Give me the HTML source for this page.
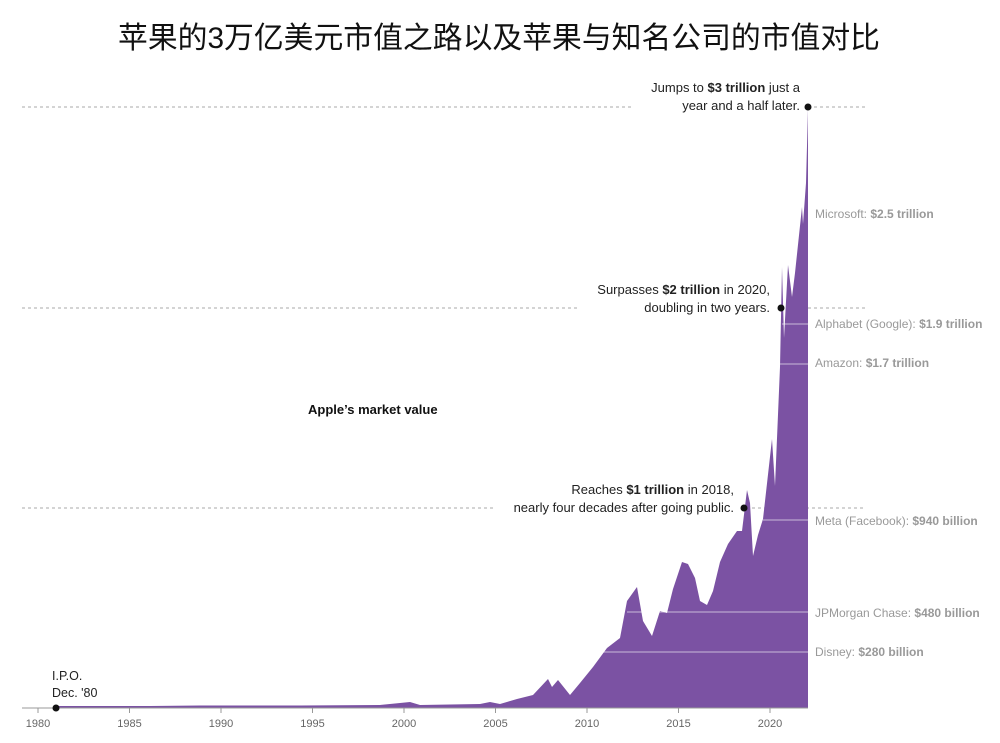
<!DOCTYPE html>
<html><head><meta charset="utf-8"><style>
body{margin:0;background:#fff;}
svg text{font-family:"Liberation Sans","Noto Sans CJK SC",sans-serif;}
</style></head><body>
<svg width="1000" height="738" viewBox="0 0 1000 738" xmlns="http://www.w3.org/2000/svg">
<text x="499" y="48" text-anchor="middle" font-size="30" fill="#111" textLength="762" lengthAdjust="spacingAndGlyphs">苹果的3万亿美元市值之路以及苹果与知名公司的市值对比</text>
<g stroke="#aaa" stroke-dasharray="3,3" stroke-width="1">
<line x1="22" y1="107" x2="632" y2="107"/><line x1="814" y1="107" x2="866" y2="107"/>
<line x1="22" y1="308" x2="578" y2="308"/><line x1="790" y1="308" x2="866" y2="308"/>
<line x1="22" y1="508" x2="493" y2="508"/><line x1="752" y1="508" x2="866" y2="508"/>
</g>
<path fill="#7b52a3" d="M56,708 L56,706 L150,706 L200,705.5 L300,705.5 L380,705 L400,703 L410,702 L420,705 L480,704 L490,702 L500,704 L517,699 L533,695 L548,679 L552,687 L558,680 L570,695 L580,683 L593,667 L607,648 L620,638 L627,601 L637,587 L643,621 L652,636 L660,611 L667,613 L673,589 L682,562 L688,564 L695,578 L700,601 L707,605 L713,591 L720,562 L728,544 L737,531 L742,531 L747,490 L750,503 L753,556 L758,535 L763,519 L772,439 L775,486 L780,367 L782,267 L784,338 L788,265 L792,297 L795,273 L802,207 L803,224 L806,183 L808,109 L808,708 Z"/>
<g stroke="#fff" stroke-opacity="0.6" stroke-width="1">
<line x1="782" y1="324" x2="808" y2="324"/><line x1="780" y1="364" x2="808" y2="364"/>
<line x1="763" y1="520" x2="808" y2="520"/><line x1="627" y1="612" x2="808" y2="612"/>
<line x1="603" y1="652" x2="808" y2="652"/>
</g>
<line x1="22" y1="708" x2="808" y2="708" stroke="#999"/>
<g stroke="#999"><line x1="38" y1="708" x2="38" y2="713"/><line x1="129.5" y1="708" x2="129.5" y2="713"/><line x1="221" y1="708" x2="221" y2="713"/><line x1="312.5" y1="708" x2="312.5" y2="713"/><line x1="404" y1="708" x2="404" y2="713"/><line x1="495.5" y1="708" x2="495.5" y2="713"/><line x1="587" y1="708" x2="587" y2="713"/><line x1="678.5" y1="708" x2="678.5" y2="713"/><line x1="770" y1="708" x2="770" y2="713"/></g>
<g font-size="11" fill="#666" text-anchor="middle"><text x="38" y="727">1980</text><text x="129.5" y="727">1985</text><text x="221" y="727">1990</text><text x="312.5" y="727">1995</text><text x="404" y="727">2000</text><text x="495.5" y="727">2005</text><text x="587" y="727">2010</text><text x="678.5" y="727">2015</text><text x="770" y="727">2020</text></g>
<g fill="#111"><circle cx="56" cy="708" r="3.5"/><circle cx="808" cy="107" r="3.5"/><circle cx="781" cy="308" r="3.5"/><circle cx="744" cy="508" r="3.5"/></g>
<g font-size="13" fill="#222" text-anchor="end">
<text x="800" y="92">Jumps to <tspan font-weight="bold">$3 trillion</tspan> just a</text>
<text x="800" y="110">year and a half later.</text>
<text x="770" y="294">Surpasses <tspan font-weight="bold">$2 trillion</tspan> in 2020,</text>
<text x="770" y="312">doubling in two years.</text>
<text x="734" y="494">Reaches <tspan font-weight="bold">$1 trillion</tspan> in 2018,</text>
<text x="734" y="512">nearly four decades after going public.</text>
</g>
<text x="52" y="680" font-size="12.5" fill="#222">I.P.O.</text>
<text x="52" y="697" font-size="12.5" fill="#222">Dec. '80</text>
<text x="308" y="414" font-size="13" font-weight="bold" fill="#111">Apple’s market value</text>
<g font-size="12" fill="#999">
<text x="815" y="218">Microsoft: <tspan font-weight="bold">$2.5 trillion</tspan></text>
<text x="815" y="328">Alphabet (Google): <tspan font-weight="bold">$1.9 trillion</tspan></text>
<text x="815" y="367">Amazon: <tspan font-weight="bold">$1.7 trillion</tspan></text>
<text x="815" y="525">Meta (Facebook): <tspan font-weight="bold">$940 billion</tspan></text>
<text x="815" y="617">JPMorgan Chase: <tspan font-weight="bold">$480 billion</tspan></text>
<text x="815" y="656">Disney: <tspan font-weight="bold">$280 billion</tspan></text>
</g>
</svg>
</body></html>
